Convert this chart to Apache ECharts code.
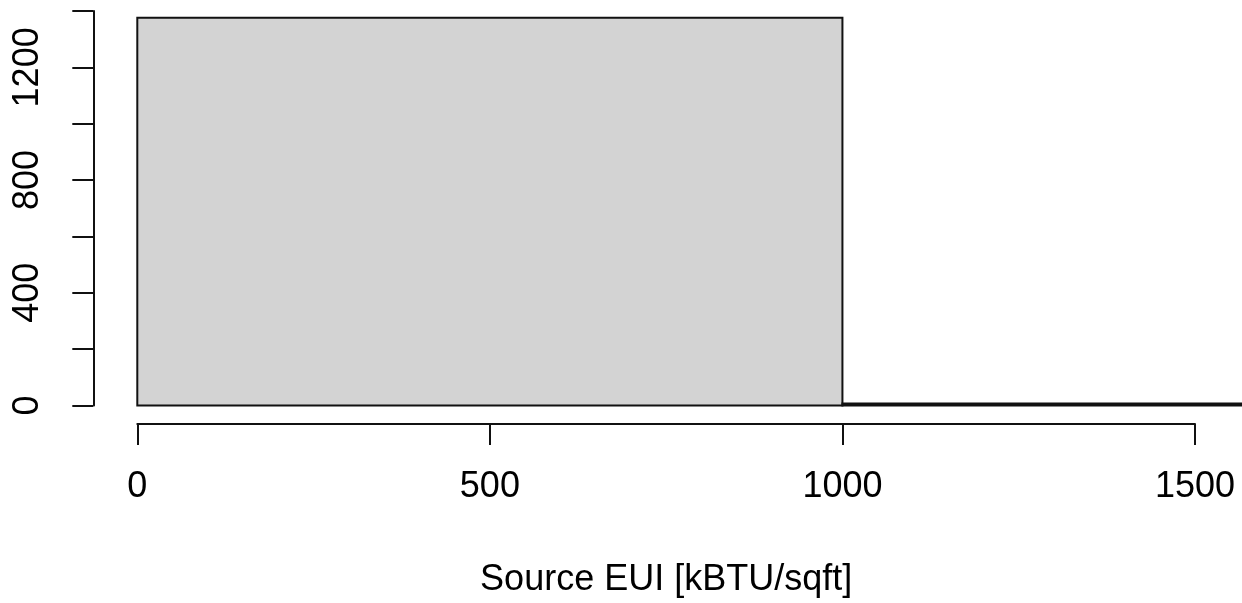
<!DOCTYPE html>
<html>
<head>
<meta charset="utf-8">
<script src="https://cdn.jsdelivr.net/npm/echarts@6/dist/echarts.min.js"></script>
<style>
  html, body { margin: 0; padding: 0; background: #fff; }
  #chart { width: 1242px; height: 603px; }
</style>
</head>
<body>
<div id="chart"></div>
<script>
// Histogram bins of source EUI (kBTU/sqft)
const binStart = [0, 1000];
const binEnd = [1000, 2000];
const binCount = [1376, 7];

const xTicks = [0, 500, 1000, 1500];
const yLabelStep = 400;

const FONT = '"Liberation Sans", Arial, sans-serif';
const INK = '#111111';
const LW = 2;

const chart = echarts.init(document.getElementById('chart'), null, { renderer: 'canvas' });

const bins = binStart.map((s, i) => [s, binEnd[i], binCount[i]]);

chart.setOption({
  animation: false,
  backgroundColor: '#ffffff',
  grid: { left: 137.3, right: 47, top: 11, bottom: 195, containLabel: false },
  xAxis: {
    type: 'value',
    min: xTicks[0],
    max: xTicks[xTicks.length - 1],
    interval: 500,
    position: 'bottom',
    offset: 18.5,
    splitLine: { show: false },
    axisLine: { show: true, onZero: false, lineStyle: { color: INK, width: LW } },
    axisTick: { show: true, length: 21, lineStyle: { color: INK, width: LW } },
    axisLabel: {
      color: '#000', fontFamily: FONT, fontSize: 36, margin: 45,
      showMinLabel: true, showMaxLabel: true,
      formatter: v => String(v)
    },
    name: 'Source EUI [kBTU/sqft]',
    nameLocation: 'middle',
    nameGap: 138,
    nameTextStyle: { color: '#000', fontFamily: FONT, fontSize: 36 }
  },
  yAxis: {
    type: 'value',
    min: 0,
    max: 1400,
    interval: 200,
    position: 'left',
    offset: 44,
    splitLine: { show: false },
    axisLine: { show: true, onZero: false, lineStyle: { color: INK, width: LW } },
    axisTick: { show: true, length: 21, lineStyle: { color: INK, width: LW } },
    axisLabel: {
      color: '#000', fontFamily: FONT, fontSize: 36, margin: 47, rotate: 90,
      showMinLabel: true, showMaxLabel: true,
      formatter: v => (v % yLabelStep === 0 ? String(v) : '')
    }
  },
  series: [{
    type: 'custom',
    clip: false,
    data: bins,
    encode: { x: [0, 1], y: 2 },
    renderItem: (params, api) => {
      const p0 = api.coord([api.value(0), api.value(2)]);
      const p1 = api.coord([api.value(1), 0]);
      return {
        type: 'rect',
        shape: { x: p0[0], y: p0[1], width: p1[0] - p0[0], height: p1[1] - p0[1] },
        style: { fill: '#d3d3d3', stroke: INK, lineWidth: LW }
      };
    }
  }]
});
</script>
</body>
</html>
